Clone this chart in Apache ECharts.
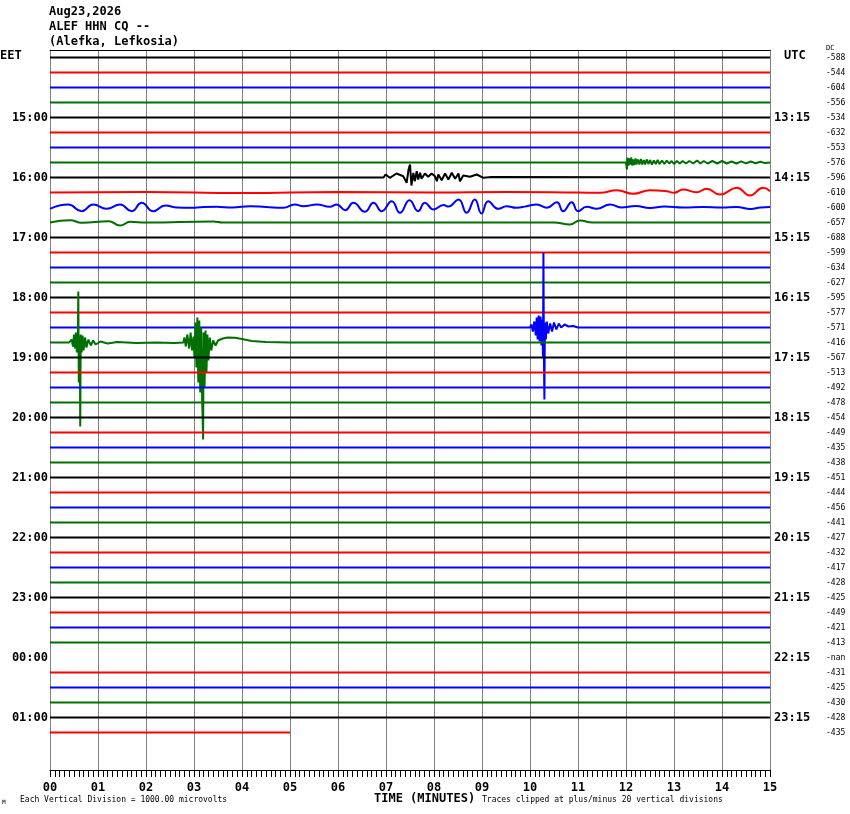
<!DOCTYPE html>
<html>
<head>
<meta charset="utf-8">
<script src="https://cdn.jsdelivr.net/npm/echarts@6/dist/echarts.min.js"></script>
<style>
  html, body { margin: 0; padding: 0; background: #fff; }
  #heli { width: 850px; height: 814px; }
</style>
</head>
<body>
<div id="heli"></div>
<script>
// helicorder: 15-minute lines, 46 of them, first one at 14:00 EET
const ROWS = 48;
const TRACE_COUNT = 46;
const MISSING_TRACE = 40;      // 00:00 line has no data (DC = nan)
const LAST_TRACE_END = 5.0;    // last line stops at minute 5
const traceColors = ['#000000', '#ff0000', '#0000ff', '#007000'];

const minuteTicks = [0, 1, 2, 3, 4, 5, 6, 7, 8, 9, 10, 11, 12, 13, 14, 15];
const hourRows = [4, 8, 12, 16, 20, 24, 28, 32, 36, 40, 44];
const eetLabels = ['15:00', '16:00', '17:00', '18:00', '19:00', '20:00', '21:00', '22:00', '23:00', '00:00', '01:00'];
const utcLabels = ['13:15', '14:15', '15:15', '16:15', '17:15', '18:15', '19:15', '20:15', '21:15', '22:15', '23:15'];
const dcValues = ['-588', '-544', '-604', '-556', '-534', '-632', '-553', '-576', '-596', '-610',
  '-600', '-657', '-688', '-599', '-634', '-627', '-595', '-577', '-571', '-416',
  '-567', '-513', '-492', '-478', '-454', '-449', '-435', '-438', '-451', '-444',
  '-456', '-441', '-427', '-432', '-417', '-428', '-425', '-449', '-421', '-413',
  '-nan', '-431', '-425', '-430', '-428', '-435'];

// [minute, amplitude], amplitude up = positive
const noiseBurst1445 = [[0, 0], [12.0, 0], [12.02, -7], [12.03, 5], [12.05, -3], [12.07, 4], [12.09, -2],
  [12.11, 5], [12.13, -3], [12.15, 3], [12.17, -2.5], [12.2, 4], [12.22, -2], [12.25, 3], [12.28, -2],
  [12.31, 3.5], [12.34, -2], [12.37, 2.5], [12.4, -2], [12.43, 3], [12.47, -1.5], [12.5, 2.5],
  [12.54, -2], [12.58, 2], [12.62, -1.5], [12.66, 2.5], [12.7, -1.5], [12.75, 2], [12.8, -1.5],
  [12.85, 2], [12.9, -1], [12.95, 1.5], [13.0, -1.5], [13.06, 1.5], [13.12, -1], [13.18, 1.5],
  [13.25, -1], [13.32, 1.5], [13.4, -1], [13.48, 2], [13.55, -1], [13.62, 1.5], [13.7, -1],
  [13.8, 1.5], [13.9, -1], [14.0, 1.5], [14.1, -1], [14.2, 1], [14.3, -1], [14.4, 1.2], [14.5, -0.8],
  [14.6, 1], [14.7, -0.8], [14.8, 0.8], [14.9, -0.6], [15, 0]];
const quake1600 = [[0, 0], [6.95, 0], [6.99, 3], [7.08, -0.3], [7.22, 4], [7.36, 1.3], [7.43, -5.3],
  [7.47, 8], [7.5, 13], [7.53, -8], [7.57, 4.7], [7.6, -3.7], [7.64, 6.3], [7.67, -2], [7.71, 4.7],
  [7.74, -1.3], [7.81, 4], [7.88, 0.7], [7.95, 4], [8.02, 1.3], [8.06, -3.7], [8.09, 3], [8.16, -2.7],
  [8.23, 4], [8.3, -2], [8.37, 4.7], [8.44, -1.3], [8.51, 4], [8.54, -3.7], [8.61, 2], [8.75, 0.7],
  [8.89, 3], [9.03, -0.3], [9.2, 0.5], [15, 0]];
const swell1615 = [[0, 0], [2, 0.5], [4, -0.5], [6, 0.5], [8, 0], [9.5, 0.5], [11.0, 0], [11.46, -0.3],
  [11.81, 2.3], [12.15, -1.3], [12.5, 2.3], [12.85, 1.3], [13.0, -0.3], [13.19, 3], [13.47, 0.3],
  [13.68, 3.7], [13.96, -2], [14.31, 4.7], [14.58, -3], [14.86, 4.7], [15, 1.3]];
const swell1630 = [[0, -1.3], [0.38, 3], [0.66, -3.7], [0.9, 3], [1.18, -1.3], [1.46, 3], [1.7, -3.7],
  [1.91, 4.7], [2.15, -3.7], [2.4, 2], [2.65, 0], [2.92, -0.3], [3.2, 0.5], [3.47, 0.7], [3.8, 0],
  [4.17, 1.3], [4.5, 0.5], [4.86, -0.3], [5.1, 3], [5.28, 1.3], [5.56, 3], [5.83, 0.7], [5.97, 3],
  [6.15, -2.7], [6.32, 4.7], [6.56, -4.3], [6.74, 4.7], [6.91, -3.7], [7.12, 6.3], [7.29, -5.3],
  [7.49, 7.3], [7.67, -3.7], [7.81, 4.7], [7.99, -2], [8.2, 2.5], [8.3, 1], [8.51, 8], [8.68, -5.3],
  [8.85, 8], [8.99, -6], [9.13, 6.3], [9.34, -1.3], [9.51, 1.3], [9.72, -0.3], [9.93, 1.3], [10.14, 3],
  [10.35, -0.3], [10.56, 5.3], [10.69, -3.7], [10.87, 5.3], [11.0, -3.7], [11.18, 0.7], [11.39, -1.3],
  [11.67, 3], [11.9, 0], [12.2, 1.5], [12.5, -0.5], [12.8, 1], [13.2, 0], [13.6, 0.5], [14.0, 0],
  [14.3, 0.5], [14.6, -1.5], [14.8, 0], [15, 0.5]];
const swell1645 = [[0, 0], [0.42, 2.3], [0.66, -0.3], [1.22, 1.3], [1.46, -3], [1.67, 0.7], [2.0, 0],
  [3.4, 1], [3.6, 0], [6, 0], [10.5, 0], [10.83, -2], [11.04, 2], [11.3, 0], [15, 0]];
const quake1830 = [[0, 0], [10.0, 0], [10.03, 3], [10.06, -4], [10.09, 6], [10.12, -8], [10.14, 10],
  [10.16, -12], [10.18, 12], [10.2, -14], [10.22, 11], [10.24, -18], [10.26, 8], [10.27, -29],
  [10.28, 75], [10.29, -29], [10.3, -72], [10.31, 5], [10.33, -12], [10.35, 6], [10.38, -6],
  [10.42, 4], [10.46, -4], [10.5, 5], [10.55, -2], [10.6, 4], [10.65, 0], [10.72, 3], [10.8, 1],
  [10.9, 1.5], [11.0, 0], [15, 0]];
const quakes1845 = [[0, 0], [0.4, 0], [0.45, 3], [0.48, -4], [0.5, 8], [0.52, -6], [0.54, 10],
  [0.56, -10], [0.58, 6], [0.59, 51], [0.6, -40], [0.62, 6], [0.63, -84], [0.64, 8], [0.66, -10],
  [0.68, 7], [0.7, -8], [0.73, 5], [0.76, -5], [0.8, 3], [0.85, -3], [0.9, 2], [0.95, -2], [1.05, 1],
  [1.2, -1], [1.4, 0.5], [1.8, -0.5], [2.2, 0], [2.6, -0.5], [2.78, 0], [2.8, 5], [2.83, -4],
  [2.86, 8], [2.9, -6], [2.93, 10], [2.96, -8], [2.99, 6], [3.01, -15], [3.03, 20], [3.05, -25],
  [3.07, 25], [3.09, -40], [3.11, 22], [3.13, -50], [3.15, 15], [3.17, -57], [3.19, -97], [3.2, 10],
  [3.22, -45], [3.24, 12], [3.26, -30], [3.28, 8], [3.3, -18], [3.33, 5], [3.36, -8], [3.4, 2],
  [3.45, -3], [3.5, 2], [3.6, 4], [3.7, 5], [3.85, 4.7], [4.0, 3.5], [4.2, 1.5], [4.5, 0.5], [5, 0],
  [15, 0]];

const eventTraces = { 7: noiseBurst1445, 8: quake1600, 9: swell1615, 10: swell1630, 11: swell1645, 18: quake1830, 19: quakes1845 };
const smoothTraces = [9, 10, 11];
const AMP_PER_ROW = 15; // amplitude units per line spacing

const FONT = 'DejaVu Sans Mono';

function rowLabels(labels) {
  const out = new Array(ROWS).fill('');
  hourRows.forEach((r, k) => { out[r] = labels[k]; });
  return out;
}
const dcRowLabels = new Array(ROWS).fill('');
dcValues.forEach((v, k) => { dcRowLabels[k] = v; });

function traceData(i) {
  const amps = eventTraces[i];
  if (amps) return amps.map(p => [p[0], i - p[1] / AMP_PER_ROW]);
  const end = i === TRACE_COUNT - 1 ? LAST_TRACE_END : 15;
  return [[0, i], [end, i]];
}

const series = [];
for (let i = 0; i < TRACE_COUNT; i++) {
  if (i === MISSING_TRACE) continue;
  series.push({
    type: 'line',
    xAxisIndex: 0,
    yAxisIndex: 0,
    data: traceData(i),
    showSymbol: false,
    smooth: smoothTraces.includes(i) ? 0.5 : false,
    lineStyle: { color: traceColors[i % 4], width: 2 },
    silent: true
  });
}

const chart = echarts.init(document.getElementById('heli'));
chart.setOption({
  animation: false,
  backgroundColor: '#ffffff',
  title: {
    text: 'Aug23,2026\nALEF HHN CQ --\n(Alefka, Lefkosia)',
    left: 49,
    top: 4,
    padding: 0,
    textStyle: { fontFamily: FONT, fontSize: 12, fontWeight: 'bold', color: '#000', lineHeight: 15 }
  },
  grid: { left: 50, top: 50, width: 720, height: 720 },
  xAxis: [{
    type: 'value',
    min: 0,
    max: 15,
    interval: 1,
    position: 'bottom',
    axisLine: { show: true, onZero: false, lineStyle: { color: '#000', width: 1 } },
    axisTick: { show: true, length: 7, lineStyle: { color: '#000' } },
    minorTick: { show: true, splitNumber: 10, length: 7, lineStyle: { color: '#000' } },
    splitLine: { show: true, lineStyle: { color: '#808080', width: 1 } },
    axisLabel: {
      margin: 12,
      fontFamily: FONT, fontSize: 12, fontWeight: 'bold', color: '#000',
      formatter: v => String(minuteTicks[v]).padStart(2, '0')
    }
  }, {
    type: 'value',
    min: 0,
    max: 15,
    position: 'top',
    axisLine: { show: true, onZero: false, lineStyle: { color: '#000', width: 1 } },
    axisTick: { show: false },
    axisLabel: { show: false },
    splitLine: { show: false }
  }],
  yAxis: [{
    type: 'value',
    min: -0.5,
    max: ROWS - 0.5,
    inverse: true,
    show: false
  }, {
    type: 'category',
    data: rowLabels(eetLabels),
    inverse: true,
    position: 'left',
    axisLine: { show: true, lineStyle: { color: '#808080' } },
    axisTick: { show: false },
    splitLine: { show: false },
    axisLabel: { interval: 0, margin: 2, fontFamily: FONT, fontSize: 12, fontWeight: 'bold', color: '#000' }
  }, {
    type: 'category',
    data: rowLabels(utcLabels),
    inverse: true,
    position: 'right',
    axisLine: { show: true, lineStyle: { color: '#808080' } },
    axisTick: { show: false },
    splitLine: { show: false },
    axisLabel: { interval: 0, margin: 4, fontFamily: FONT, fontSize: 12, fontWeight: 'bold', color: '#000' }
  }, {
    type: 'category',
    data: dcRowLabels,
    inverse: true,
    position: 'right',
    offset: 56,
    axisLine: { show: false },
    axisTick: { show: false },
    splitLine: { show: false },
    axisLabel: { interval: 0, margin: 0, fontFamily: FONT, fontSize: 8, color: '#000' }
  }],
  graphic: [
    { type: 'text', left: 0, top: 50, style: { text: 'EET', font: 'bold 12px "DejaVu Sans Mono"', fill: '#000' } },
    { type: 'text', left: 784, top: 50, style: { text: 'UTC', font: 'bold 12px "DejaVu Sans Mono"', fill: '#000' } },
    { type: 'text', left: 826, top: 45, style: { text: 'DC', font: '7px "DejaVu Sans Mono"', fill: '#000' } },
    { type: 'text', left: 374, top: 793, style: { text: 'TIME (MINUTES)', font: 'bold 12px "DejaVu Sans Mono"', fill: '#000' } },
    { type: 'text', left: 20, top: 796, style: { text: 'Each Vertical Division = 1000.00 microvolts', font: '8px "DejaVu Sans Mono"', fill: '#000' } },
    { type: 'text', left: 482, top: 796, style: { text: 'Traces clipped at plus/minus 20 vertical divisions', font: '8px "DejaVu Sans Mono"', fill: '#000' } },
    { type: 'text', left: 2, top: 799, style: { text: 'M', font: '6px "DejaVu Sans Mono"', fill: '#000' } }
  ],
  series: series
});
</script>
</body>
</html>
